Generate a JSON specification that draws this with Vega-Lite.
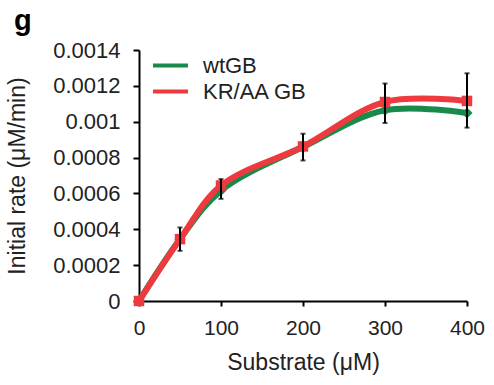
{
  "$schema": "https://vega.github.io/schema/vega-lite/v6.json",
  "autosize": "none",
  "padding": {"left": 139, "top": 50, "right": 27, "bottom": 84},
  "width": 328,
  "height": 251,
  "background": "white",
  "title": {
    "text": "g",
    "anchor": "start",
    "frame": "group",
    "dx": -125,
    "offset": 18,
    "dy": 38,
    "baseline": "alphabetic",
    "font": "Liberation Sans",
    "fontSize": 29,
    "fontWeight": "bold",
    "color": "black"
  },
  "config": {
    "view": {"stroke": null},
    "font": "Liberation Sans",
    "axis": {
      "grid": false,
      "domainColor": "black",
      "domainWidth": 2,
      "tickColor": "black",
      "tickWidth": 2,
      "tickSize": 5,
      "labelFlush": false,
      "labelOverlap": false,
      "labelFont": "Liberation Sans",
      "labelFontSize": 21,
      "labelColor": "#222",
      "titleFont": "Liberation Sans",
      "titleFontSize": 23,
      "titleFontWeight": "normal",
      "titleColor": "#222"
    },
    "legend": {
      "labelFont": "Liberation Sans",
      "labelFontSize": 22,
      "labelColor": "#222"
    }
  },
  "datasets": {
    "lines": [
      {"x": 0, "y": 0, "series": "wtGB"},
      {"x": 50, "y": 0.000345, "series": "wtGB"},
      {"x": 100, "y": 0.000616, "series": "wtGB"},
      {"x": 200, "y": 0.000859, "series": "wtGB"},
      {"x": 300, "y": 0.001064, "series": "wtGB"},
      {"x": 400, "y": 0.001049, "series": "wtGB"},
      {"x": 0, "y": 0, "series": "KR/AA GB"},
      {"x": 50, "y": 0.000345, "series": "KR/AA GB"},
      {"x": 100, "y": 0.000644, "series": "KR/AA GB"},
      {"x": 200, "y": 0.000862, "series": "KR/AA GB"},
      {"x": 300, "y": 0.00111, "series": "KR/AA GB"},
      {"x": 400, "y": 0.001116, "series": "KR/AA GB"}
    ],
    "err": [
      {"x": 50, "y": 0.00028, "hi": 0.00041},
      {"x": 100, "y": 0.00057, "hi": 0.00068},
      {"x": 200, "y": 0.000784, "hi": 0.000933},
      {"x": 300, "y": 0.000993, "hi": 0.001213},
      {"x": 400, "y": 0.000967, "hi": 0.00127}
    ]
  },
  "encoding": {
    "x": {
      "field": "x", "type": "quantitative",
      "scale": {"domain": [0, 400], "nice": false},
      "title": "Substrate (μM)",
      "axis": {"values": [0, 100, 200, 300, 400], "labelPadding": 11, "titleY": 50}
    },
    "y": {
      "field": "y", "type": "quantitative",
      "scale": {"domain": [0, 0.0014], "nice": false},
      "title": "Initial rate (μM/min)",
      "axis": {
        "values": [0, 0.0002, 0.0004, 0.0006, 0.0008, 0.001, 0.0012, 0.0014],
        "format": "~g",
        "labelFontSize": 22,
        "labelPadding": 13,
        "tickSize": 6,
        "titleX": -110
      }
    }
  },
  "layer": [
    {
      "data": {"name": "lines"},
      "mark": {"type": "line", "strokeWidth": 6, "interpolate": "catmull-rom"},
      "encoding": {
        "color": {
          "field": "series", "type": "nominal",
          "scale": {"domain": ["wtGB", "KR/AA GB"], "range": ["#178a4c", "#ee3a3f"]},
          "legend": {
            "title": null,
            "orient": "none",
            "legendX": 17,
            "legendY": 1,
            "symbolType": "M-1.4,0H1.4",
            "symbolStrokeWidth": 4,
            "symbolSize": 625,
            "labelOffset": 18,
            "rowPadding": 0
          }
        }
      }
    },
    {
      "data": {"name": "lines"},
      "transform": [{"filter": "datum.series === 'wtGB'"}],
      "mark": {"type": "point", "filled": true, "opacity": 1, "size": 120, "shape": "diamond", "color": "#178a4c"},
      "encoding": {}
    },
    {
      "data": {"name": "lines"},
      "transform": [{"filter": "datum.series === 'KR/AA GB'"}],
      "mark": {"type": "point", "filled": true, "opacity": 1, "size": 110, "shape": "square", "color": "#ee3a3f"},
      "encoding": {}
    },
    {
      "data": {"name": "err"},
      "mark": {"type": "errorbar", "ticks": {"color": "black", "thickness": 2, "size": 5}, "rule": {"color": "black", "strokeWidth": 2}},
      "encoding": {
        "y2": {"field": "hi"}
      }
    }
  ]
}
